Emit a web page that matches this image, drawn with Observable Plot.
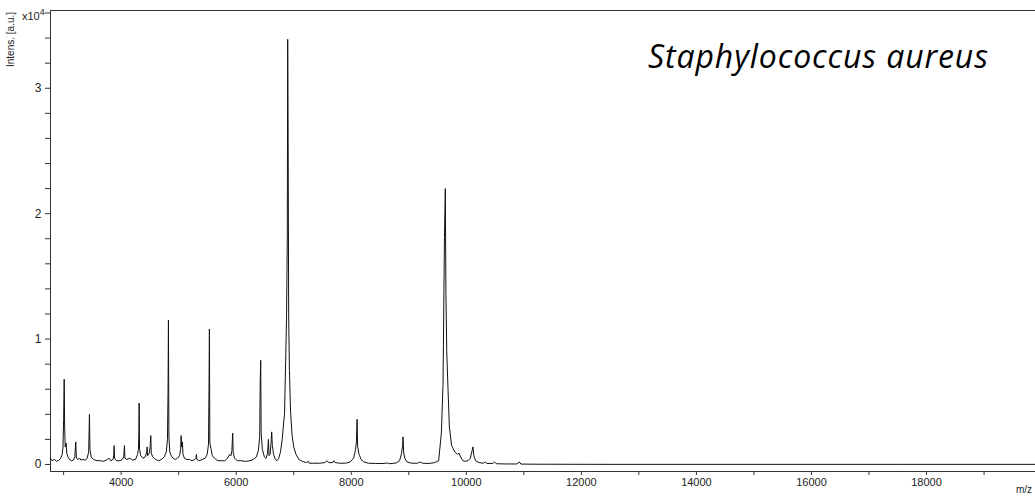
<!DOCTYPE html>
<html>
<head>
<meta charset="utf-8">
<script src="https://cdn.jsdelivr.net/npm/d3@7"></script>
<script src="https://cdn.jsdelivr.net/npm/@observablehq/plot@0.6"></script>
<style>
  html, body { margin: 0; padding: 0; background: #fff; overflow: hidden; }
  #chart { width: 1035px; height: 496px; }
</style>
</head>
<body>
<div id="chart"></div>
<script>
// ---- Data (m/z, intensity in units of 10^4 a.u.) ----
const mz = [
  2772, 2800, 2840, 2880, 2920, 2950, 2975, 2990, 3000, 3010, 3018, 3028, 3044, 3055, 3075, 3100,
  3140, 3170, 3195, 3211, 3222, 3250, 3280, 3300, 3340, 3380, 3410, 3435, 3443, 3449, 3458, 3480,
  3520, 3580, 3640, 3700, 3760, 3790, 3820, 3860, 3872, 3878, 3886, 3920, 3980, 4020, 4045, 4057,
  4066, 4100, 4150, 4200, 4250, 4285, 4300, 4307, 4313, 4320, 4340, 4380, 4420, 4445, 4452, 4460,
  4490, 4505, 4515, 4524, 4550, 4600, 4650, 4700, 4750, 4785, 4805, 4815, 4822, 4830, 4845, 4870,
  4900, 4940, 4980, 5015, 5035, 5043, 5052, 5065, 5075, 5100, 5140, 5190, 5230, 5280, 5300, 5308,
  5316, 5360, 5410, 5460, 5495, 5518, 5527, 5534, 5542, 5560, 5585, 5620, 5680, 5740, 5800, 5850,
  5885, 5910, 5925, 5939, 5947, 5970, 6020, 6080, 6160, 6240, 6300, 6350, 6385, 6408, 6418, 6426,
  6434, 6455, 6490, 6520, 6545, 6560, 6570, 6590, 6605, 6617, 6628, 6650, 6680, 6710, 6740, 6770,
  6800, 6815, 6826, 6840, 6860, 6875, 6888, 6895, 6903, 6912, 6925, 6945, 6970, 7000, 7040, 7090,
  7150, 7220, 7255, 7270, 7350, 7450, 7540, 7579, 7610, 7680, 7695, 7720, 7800, 7900, 7980, 8040,
  8075, 8090, 8101, 8110, 8130, 8146, 8170, 8220, 8300, 8420, 8550, 8633, 8660, 8780, 8840, 8875,
  8892, 8900, 8910, 8930, 8970, 9050, 9150, 9201, 9240, 9350, 9450, 9519, 9566, 9595, 9620, 9635,
  9645, 9660, 9682, 9705, 9745, 9800, 9850, 9875, 9900, 9940, 9970, 10030, 10070, 10095, 10116, 10130,
  10160, 10220, 10300, 10330, 10360, 10460, 10492, 10520, 10700, 10880, 10921, 10950, 11300, 12500, 15000, 17500,
  19894
];
const intensity = [
  0.05, 0.03, 0.04, 0.025, 0.035, 0.05, 0.08, 0.14, 0.36, 0.68, 0.30, 0.14, 0.17, 0.09, 0.06, 0.04,
  0.03, 0.035, 0.06, 0.18, 0.05, 0.04, 0.05, 0.035, 0.04, 0.035, 0.05, 0.10, 0.26, 0.40, 0.12, 0.06,
  0.04, 0.03, 0.03, 0.025, 0.04, 0.05, 0.03, 0.04, 0.08, 0.15, 0.05, 0.03, 0.03, 0.04, 0.06, 0.15,
  0.05, 0.04, 0.05, 0.035, 0.04, 0.08, 0.12, 0.22, 0.49, 0.12, 0.07, 0.05, 0.06, 0.10, 0.14, 0.07,
  0.09, 0.15, 0.23, 0.09, 0.06, 0.04, 0.03, 0.04, 0.06, 0.10, 0.20, 0.57, 1.15, 0.22, 0.10, 0.07,
  0.05, 0.04, 0.05, 0.07, 0.12, 0.23, 0.14, 0.18, 0.08, 0.05, 0.04, 0.04, 0.03, 0.04, 0.05, 0.08,
  0.04, 0.03, 0.04, 0.05, 0.08, 0.16, 0.59, 1.08, 0.17, 0.13, 0.07, 0.05, 0.03, 0.03, 0.03, 0.05,
  0.08, 0.07, 0.11, 0.25, 0.10, 0.05, 0.03, 0.03, 0.025, 0.03, 0.04, 0.06, 0.11, 0.22, 0.68, 0.83,
  0.25, 0.12, 0.06, 0.05, 0.09, 0.20, 0.07, 0.08, 0.17, 0.26, 0.15, 0.08, 0.04, 0.03, 0.05, 0.10,
  0.20, 0.28, 0.34, 0.40, 0.83, 1.17, 1.80, 3.39, 2.60, 1.20, 0.75, 0.42, 0.24, 0.14, 0.08, 0.04,
  0.025, 0.015, 0.025, 0.01, 0.01, 0.01, 0.015, 0.03, 0.015, 0.015, 0.03, 0.015, 0.01, 0.01, 0.02, 0.05,
  0.12, 0.18, 0.36, 0.15, 0.09, 0.07, 0.04, 0.02, 0.01, 0.008, 0.008, 0.012, 0.006, 0.012, 0.03, 0.09,
  0.15, 0.22, 0.10, 0.05, 0.02, 0.01, 0.01, 0.02, 0.01, 0.008, 0.015, 0.03, 0.25, 0.64, 1.81, 2.20,
  1.38, 0.90, 0.60, 0.30, 0.15, 0.10, 0.08, 0.09, 0.06, 0.03, 0.025, 0.03, 0.05, 0.10, 0.14, 0.07,
  0.03, 0.015, 0.01, 0.02, 0.008, 0.008, 0.02, 0.006, 0.004, 0.004, 0.02, 0.003, 0.002, 0.001, 0.001, 0.001,
  0.001
];

// ---- Axes / tick values ----
const xDomain = [2772, 19894];
const yDomain = [-0.056, 3.62];
const xMajorTicks = [4000, 6000, 8000, 10000, 12000, 14000, 16000, 18000];
const xMinorTicks = [3000, 5000, 7000, 9000, 11000, 13000, 15000, 17000, 19000];
const yMajorTicks = [0, 1, 2, 3];
const yMinorTicks = [0.2, 0.4, 0.6, 0.8, 1.2, 1.4, 1.6, 1.8, 2.2, 2.4, 2.6, 2.8, 3.2, 3.4, 3.6];

const titleText = "Staphylococcus aureus";
const yLabelText = "Intens. [a.u.]";
const xLabelText = "m/z";

const spectrum = mz.map((m, i) => ({mz: m, intensity: intensity[i]}));

const axisColor = "#333";
const fontFam = "'Liberation Sans', Arial, sans-serif";

const plot = Plot.plot({
  width: 1035,
  height: 496,
  marginLeft: 50,
  marginRight: 0,
  marginTop: 10,
  marginBottom: 25,
  style: {fontFamily: fontFam, fontSize: "11px", color: "#222", background: "#fff"},
  x: {domain: xDomain, label: null},
  y: {domain: yDomain, label: null},
  marks: [
    Plot.axisX(xMinorTicks, {tickSize: 4, tickFormat: () => "", stroke: axisColor, label: null}),
    Plot.axisX(xMajorTicks, {tickSize: 4, tickPadding: 3, tickFormat: d => String(d), stroke: axisColor, label: null}),
    Plot.axisY(yMinorTicks, {tickSize: 5, tickFormat: () => "", stroke: axisColor, label: null}),
    Plot.axisY(yMajorTicks, {tickSize: 5, tickPadding: 4, fontSize: 12, tickFormat: d => String(d), stroke: axisColor, label: null}),
    Plot.ruleY([yDomain[0]], {stroke: axisColor, strokeWidth: 1}),
    Plot.ruleY([yDomain[1]], {stroke: axisColor, strokeWidth: 1}),
    Plot.ruleX([xDomain[0]], {stroke: axisColor, strokeWidth: 1}),
    Plot.line(spectrum, {x: "mz", y: "intensity", stroke: "#111", strokeWidth: 1})
  ]
});

document.getElementById("chart").appendChild(plot);

const svg = d3.select(plot);

// Title inside plot area
svg.append("text")
  .attr("x", 648).attr("y", 68)
  .attr("text-anchor", "start")
  .attr("font-family", "'Open Sans', sans-serif")
  .attr("font-style", "italic")
  .attr("font-size", 32)
  .attr("textLength", 340)
  .attr("lengthAdjust", "spacing")
  .attr("fill", "#000")
  .text(titleText);

// Y-axis label (rotated)
svg.append("text")
  .attr("transform", "translate(14,67) rotate(-90)")
  .attr("text-anchor", "start")
  .attr("font-family", fontFam)
  .attr("font-size", 10)
  .attr("fill", "#222")
  .text(yLabelText);

// x10^4 exponent marker
const ex = svg.append("text")
  .attr("x", 22).attr("y", 20)
  .attr("text-anchor", "start")
  .attr("font-family", fontFam)
  .attr("font-size", 11)
  .attr("fill", "#222");
ex.append("tspan").text("x10");
ex.append("tspan").attr("dy", -5).attr("font-size", 9).text("4");

// x-axis unit label at bottom right
svg.append("text")
  .attr("x", 1032).attr("y", 493)
  .attr("text-anchor", "end")
  .attr("font-family", fontFam)
  .attr("font-size", 10)
  .attr("fill", "#222")
  .text(xLabelText);
</script>
</body>
</html>
